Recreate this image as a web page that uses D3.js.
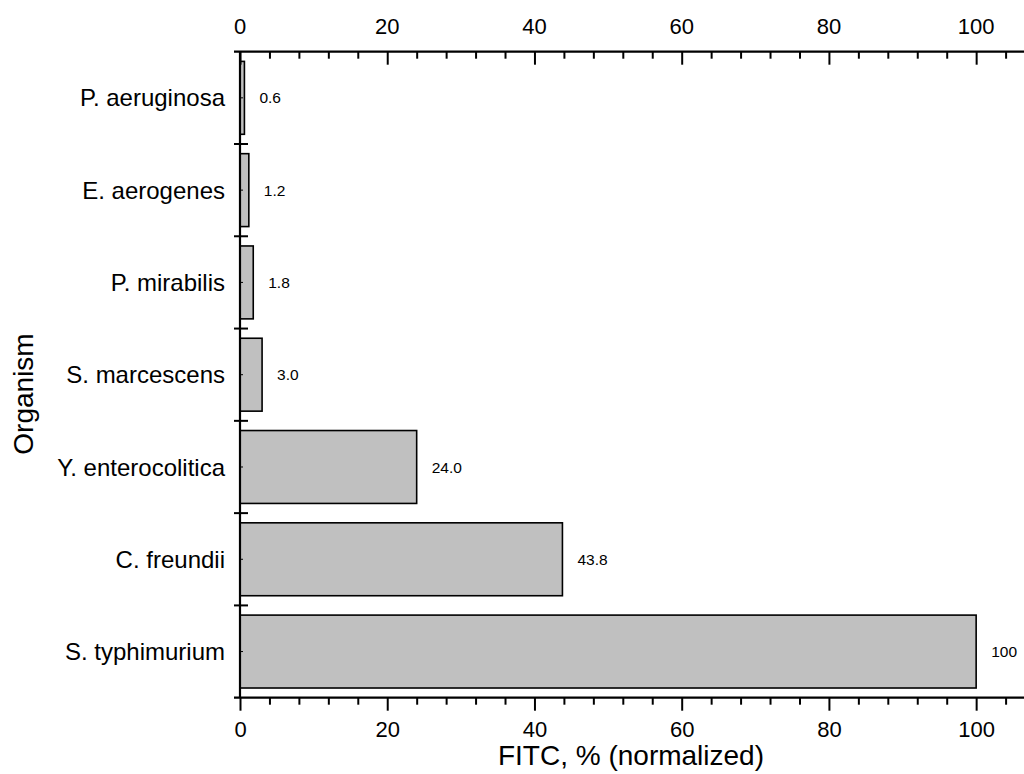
<!DOCTYPE html>
<html><head><meta charset="utf-8">
<script src="https://cdn.jsdelivr.net/npm/d3@7"></script>
<style>
html,body{margin:0;padding:0;background:#fff;}
svg{display:block;font-family:"Liberation Sans",Arial,Helvetica,sans-serif;}
</style></head>
<body>
<svg id="chart" width="1024" height="774"></svg>
<script>
const categories = ["P. aeruginosa","E. aerogenes","P. mirabilis","S. marcescens","Y. enterocolitica","C. freundii","S. typhimurium"];
const values = [0.6, 1.2, 1.8, 3.0, 24.0, 43.8, 100];
const valueLabels = ["0.6","1.2","1.8","3.0","24.0","43.8","100"];
const xMajorTicks = [0, 20, 40, 60, 80, 100];
const xTitle = "FITC, % (normalized)";
const yTitle = "Organism";

(function(){
const svg = d3.select("#chart");
const pL = 240, pR = 1024, pT = 51.7, pB = 697.7;
const x = d3.scaleLinear().domain([0, 106.5]).range([pL, pR]);
const y = d3.scaleBand().domain(categories).range([pT, pB]).paddingInner(0.21).paddingOuter(0.105);
const yb = d3.scaleLinear().domain([0, categories.length]).range([pT, pB]);

const minorTicks = d3.range(0, 106, 4).filter(v => v % 20 !== 0);

// bars
svg.append("g").selectAll("rect").data(values).join("rect")
  .attr("x", x(0))
  .attr("y", (d,i) => y(categories[i]))
  .attr("width", d => x(d) - x(0))
  .attr("height", y.bandwidth())
  .attr("fill", "#c0c0c0")
  .attr("stroke", "#000")
  .attr("stroke-width", 1.6);

// value labels
svg.append("g").selectAll("text").data(values).join("text")
  .attr("x", d => x(d) + 15)
  .attr("y", (d,i) => y(categories[i]) + y.bandwidth()/2)
  .attr("dy", "0.36em")
  .attr("font-size", 15.5)
  .attr("fill", "#000")
  .text((d,i) => valueLabels[i]);

// top axis (ticks pointing down)
const gTop = svg.append("g").attr("transform", `translate(0,${pT})`)
  .call(d3.axisBottom(x).tickValues(xMajorTicks).tickSize(13).tickFormat(""));
gTop.append("g").call(d3.axisBottom(x).tickValues(minorTicks).tickSize(7).tickFormat("")).select(".domain").remove();
gTop.append("g").selectAll("text").data(xMajorTicks).join("text")
  .attr("x", d => x(d)).attr("y", -18)
  .attr("text-anchor", "middle").attr("font-size", 22).attr("fill", "#000")
  .text(d => d);

// bottom axis (ticks pointing down/out)
const gBot = svg.append("g").attr("transform", `translate(0,${pB})`)
  .call(d3.axisBottom(x).tickValues(xMajorTicks).tickSize(13).tickFormat(d3.format("d")));
gBot.append("g").call(d3.axisBottom(x).tickValues(minorTicks).tickSize(7).tickFormat("")).select(".domain").remove();
gBot.selectAll(".tick text").attr("font-size", 22).attr("fill", "#000").attr("dy", "0.71em").attr("y", 24);
gBot.attr("font-family", null);
gTop.attr("font-family", null);

[gTop, gBot].forEach(g => {
  g.selectAll(".domain").attr("d", `M${pL-6},0H${pR}`).attr("stroke-width", 2.2).attr("stroke", "#000");
  g.selectAll(".tick line").attr("stroke-width", 2).attr("stroke", "#000");
});

// left axis line
svg.append("line").attr("x1", pL).attr("x2", pL).attr("y1", pT).attr("y2", pB)
  .attr("stroke", "#000").attr("stroke-width", 2.2);

// boundary ticks
svg.append("g").selectAll("line").data(d3.range(1, categories.length)).join("line")
  .attr("x1", pL - 6).attr("x2", pL + 8)
  .attr("y1", d => yb(d)).attr("y2", d => yb(d))
  .attr("stroke", "#000").attr("stroke-width", 2);

// small center ticks
svg.append("g").selectAll("line").data(categories).join("line")
  .attr("x1", pL).attr("x2", pL + 3)
  .attr("y1", d => y(d) + y.bandwidth()/2).attr("y2", d => y(d) + y.bandwidth()/2)
  .attr("stroke", "#000").attr("stroke-width", 1);

// category labels
svg.append("g").selectAll("text").data(categories).join("text")
  .attr("x", pL - 15)
  .attr("y", d => y(d) + y.bandwidth()/2)
  .attr("dy", "0.36em")
  .attr("text-anchor", "end")
  .attr("font-size", 24)
  .attr("fill", "#000")
  .text(d => d);

// axis titles
svg.append("text").attr("x", 631).attr("y", 765)
  .attr("text-anchor", "middle").attr("font-size", 28).attr("fill", "#000").text(xTitle);
svg.append("text").attr("transform", "translate(33,394) rotate(-90)")
  .attr("text-anchor", "middle").attr("font-size", 28).attr("fill", "#000").text(yTitle);
})();
</script>
</body></html>
